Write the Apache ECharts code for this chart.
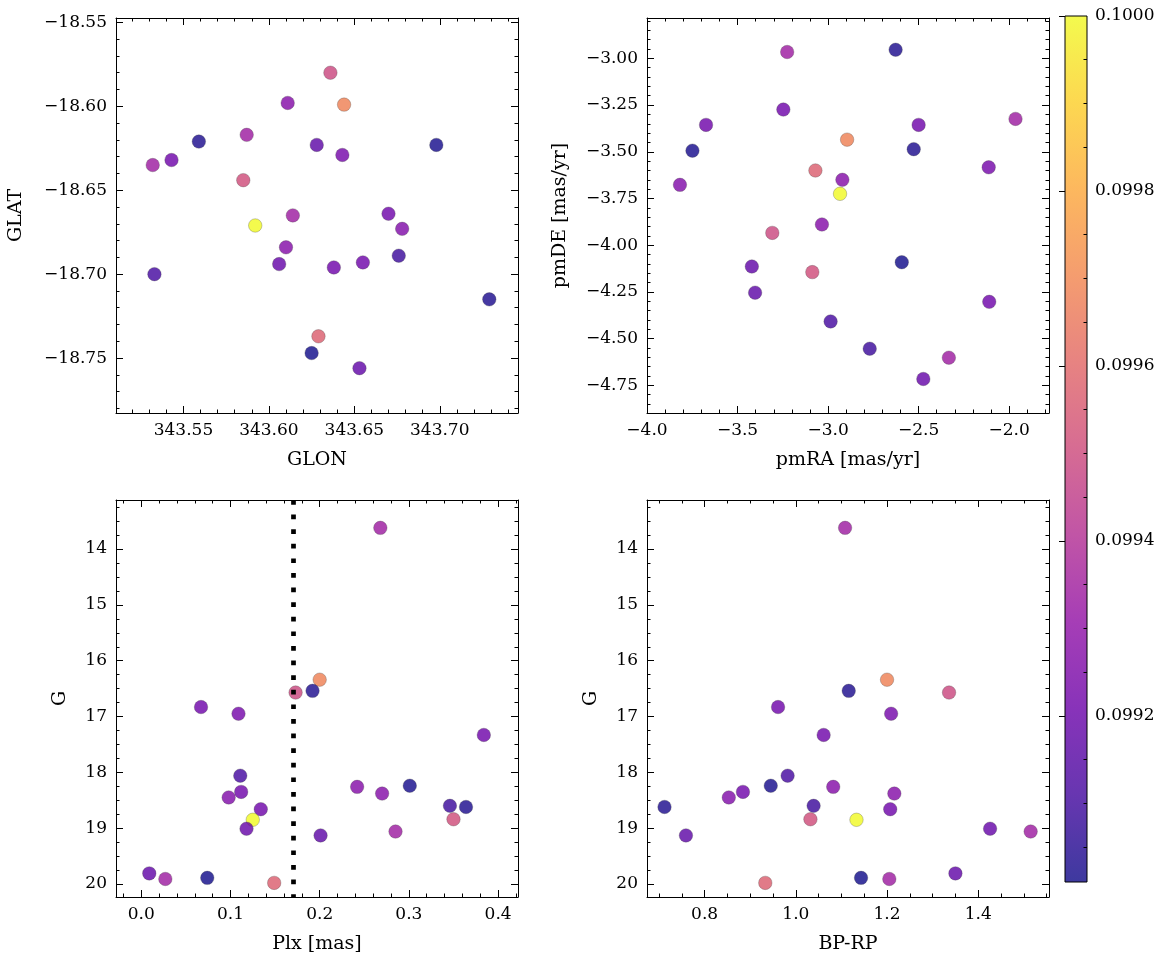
<!DOCTYPE html>
<html><head><meta charset="utf-8">
<script src="https://cdn.jsdelivr.net/npm/echarts@6/dist/echarts.min.js"></script>
<style>html,body{margin:0;padding:0;background:#fff}#c{width:1166px;height:965px}</style>
</head><body><div id="c"></div>
<script>
// ---- data (one entry per star) ----
const glon = [343.532, 343.644, 343.559, 343.636, 343.543, 343.643, 343.670, 343.533, 343.611, 343.698, 343.610, 343.678, 343.638, 343.655, 343.592, 343.606, 343.628, 343.587, 343.676, 343.729, 343.585, 343.653, 343.614, 343.625, 343.629];
const glat = [-18.635, -18.599, -18.621, -18.580, -18.632, -18.629, -18.664, -18.700, -18.598, -18.623, -18.684, -18.673, -18.696, -18.693, -18.671, -18.694, -18.623, -18.617, -18.689, -18.715, -18.644, -18.756, -18.665, -18.747, -18.737];
const pmra = [-3.226, -2.895, -2.627, -3.308, -3.247, -2.113, -2.110, -2.986, -2.921, -3.749, -3.034, -3.818, -3.674, -2.500, -2.934, -2.474, -3.403, -1.965, -2.770, -2.527, -3.087, -3.421, -2.333, -2.593, -3.070];
const pmde = [-2.966, -3.435, -2.954, -3.934, -3.274, -3.583, -4.303, -4.408, -3.650, -3.494, -3.889, -3.677, -3.356, -3.356, -3.725, -4.716, -4.254, -3.324, -4.554, -3.486, -4.144, -4.114, -4.602, -4.091, -3.600];
const plx  = [0.268, 0.200, 0.192, 0.173, 0.067, 0.109, 0.384, 0.111, 0.242, 0.301, 0.270, 0.098, 0.112, 0.134, 0.125, 0.118, 0.201, 0.285, 0.346, 0.364, 0.350, 0.009, 0.027, 0.074, 0.149];
const gmag = [13.62, 16.34, 16.54, 16.57, 16.83, 16.95, 17.33, 18.06, 18.26, 18.24, 18.38, 18.45, 18.35, 18.66, 18.85, 19.01, 19.13, 19.06, 18.60, 18.62, 18.84, 19.81, 19.91, 19.89, 19.98];
const bprp = [1.108, 1.200, 1.116, 1.336, 0.961, 1.209, 1.061, 0.982, 1.082, 0.945, 1.216, 0.853, 0.884, 1.207, 1.133, 1.426, 0.759, 1.515, 1.039, 0.712, 1.032, 1.350, 1.205, 1.143, 0.933];
const cval = [0.09934, 0.09968, 0.09903, 0.09949, 0.09921, 0.09923, 0.09921, 0.09911, 0.09927, 0.09902, 0.09927, 0.09926, 0.09921, 0.09921, 0.10000, 0.09919, 0.09917, 0.09934, 0.09909, 0.09903, 0.09951, 0.09918, 0.09934, 0.09901, 0.09957];
const PLX_CUT = 0.173;

// ---- tick labels ----
const glonTicks = [343.55, 343.60, 343.65, 343.70];
const glatTicks = [-18.55, -18.60, -18.65, -18.70, -18.75];
const pmraTicks = [-4.0, -3.5, -3.0, -2.5, -2.0];
const pmdeTicks = [-3.00, -3.25, -3.50, -3.75, -4.00, -4.25, -4.50, -4.75];
const plxTicks = [0.0, 0.1, 0.2, 0.3, 0.4];
const gTicks = [14, 15, 16, 17, 18, 19, 20];
const bprpTicks = [0.8, 1.0, 1.2, 1.4];
const cbarTicks = [0.0992, 0.0994, 0.0996, 0.0998, 0.1000];
const CB_MIN = 0.09901, CB_MAX = 0.1000;

const PLASMA = ['#0d0887','#41049d','#6a00a8','#8f0da4','#b12a90','#cc4778','#e16462','#f2844b','#fca636','#fcce25','#f0f921'];
const FONT = 'DejaVu Serif';
const TICK_FS = 17, NAME_FS = 19;

function fmt(d) { return v => (v < 0 ? '\u2212' : '') + Math.abs(v).toFixed(d); }
function minors(range, step, majors) {
  const out = [];
  const start = Math.ceil(range[0] / step - 1e-9);
  const end = Math.floor(range[1] / step + 1e-9);
  for (let k = start; k <= end; k++) {
    const v = +(k * step).toFixed(8);
    if (!majors.some(m => Math.abs(m - v) < step * 1e-3)) out.push(v);
  }
  return out;
}

const panels = [
  {x: glon, y: glat, xr: [343.5105, 343.7458], yr: [-18.7827, -18.5474], xt: glonTicks, yt: glatTicks, xm: 0.01, ym: 0.01, xd: 2, yd: 2,
   xname: 'GLON', yname: 'GLAT', grid: {left: 116, top: 18, width: 402, height: 395}, yGap: 90, inv: false},
  {x: pmra, y: pmde, xr: [-4.0, -1.78], yr: [-4.898, -2.784], xt: pmraTicks, yt: pmdeTicks, xm: 0.1, ym: 0.05, xd: 1, yd: 2,
   xname: 'pmRA [mas/yr]', yname: 'pmDE [mas/yr]', grid: {left: 647, top: 18, width: 402, height: 395}, yGap: 77, inv: false},
  {x: plx, y: gmag, xr: [-0.0283, 0.4223], yr: [13.121, 20.233], xt: plxTicks, yt: gTicks, xm: 0.02, ym: 0.25, xd: 1, yd: 0,
   xname: 'Plx [mas]', yname: 'G', grid: {left: 116, top: 500, width: 402, height: 397}, yGap: 46, inv: true, cut: true},
  {x: bprp, y: gmag, xr: [0.6736, 1.5552], yr: [13.121, 20.233], xt: bprpTicks, yt: gTicks, xm: 0.05, ym: 0.25, xd: 1, yd: 0,
   xname: 'BP-RP', yname: 'G', grid: {left: 647, top: 500, width: 402, height: 397}, yGap: 46, inv: true}
];

const grids = [], xAxes = [], yAxes = [], series = [];
const lineBlack = {color: '#000', width: 1};

function axisSet(list, gi, range, majors, minorVals, d, name, gap, inv, posMain, posOpp) {
  const common = {type: 'value', min: range[0], max: range[1], inverse: !!inv, splitLine: {show: false}, gridIndex: gi};
  const base = list.length;
  list.push(Object.assign({}, common, {
    position: posMain,
    axisLine: {show: true, onZero: false, lineStyle: lineBlack},
    axisTick: {show: true, inside: true, length: 7, customValues: majors, lineStyle: lineBlack},
    axisLabel: {show: true, customValues: majors, formatter: fmt(d), color: '#000', fontFamily: FONT, fontSize: TICK_FS, margin: 9},
    name: name, nameLocation: 'middle', nameGap: gap,
    nameTextStyle: {color: '#000', fontFamily: FONT, fontSize: NAME_FS}
  }));
  list.push(Object.assign({}, common, {
    position: posMain,
    axisLine: {show: false, onZero: false},
    axisTick: {show: true, inside: true, length: 3.5, customValues: minorVals, lineStyle: lineBlack},
    axisLabel: {show: false}
  }));
  list.push(Object.assign({}, common, {
    position: posOpp,
    axisLine: {show: true, onZero: false, lineStyle: lineBlack},
    axisTick: {show: true, inside: true, length: 7, customValues: majors, lineStyle: lineBlack},
    axisLabel: {show: false}
  }));
  list.push(Object.assign({}, common, {
    position: posOpp,
    axisLine: {show: false, onZero: false},
    axisTick: {show: true, inside: true, length: 3.5, customValues: minorVals, lineStyle: lineBlack},
    axisLabel: {show: false}
  }));
  return base;
}

panels.forEach((p, gi) => {
  grids.push(Object.assign({containLabel: false}, p.grid));
  const xi = axisSet(xAxes, gi, p.xr, p.xt, minors(p.xr, p.xm, p.xt), p.xd, p.xname, 38, false, 'bottom', 'top');
  const yi = axisSet(yAxes, gi, p.yr, p.yt, minors(p.yr, p.ym, p.yt), p.yd, p.yname, p.yGap, p.inv, 'left', 'right');
  const s = {
    type: 'scatter', xAxisIndex: xi, yAxisIndex: yi,
    data: p.x.map((v, i) => [v, p.y[i], cval[i]]),
    symbolSize: 13.5,
    itemStyle: {opacity: 0.8, borderColor: 'rgba(60,60,60,0.7)', borderWidth: 0.5},
    emphasis: {disabled: true}, silent: true, z: 3
  };
  if (p.cut) {
    s.markLine = {
      symbol: ['none', 'none'], silent: true, animation: false,
      label: {show: false},
      lineStyle: {color: '#000', width: 4.7, type: [4.7, 9.9], cap: 'butt', opacity: 1},
      data: [{xAxis: PLX_CUT}]
    };
  }
  series.push(s);
});

// ---- colorbar ----
const cbGrid = grids.length;
grids.push({left: 1065, top: 16, width: 22, height: 866, containLabel: false});
const cbX = xAxes.length;
xAxes.push({type: 'value', gridIndex: cbGrid, min: 0, max: 1, show: false});
const cbY = yAxes.length;
const cbMinor = minors([CB_MIN, CB_MAX], 0.00005, cbarTicks);
yAxes.push({type: 'value', gridIndex: cbGrid, min: CB_MIN, max: CB_MAX, position: 'right', splitLine: {show: false},
  axisLine: {show: false},
  axisTick: {show: true, inside: true, length: 6, customValues: cbarTicks, lineStyle: lineBlack},
  axisLabel: {show: true, customValues: cbarTicks, formatter: v => v.toFixed(4), color: '#000', fontFamily: FONT, fontSize: TICK_FS, margin: 8}});
yAxes.push({type: 'value', gridIndex: cbGrid, min: CB_MIN, max: CB_MAX, position: 'right', splitLine: {show: false},
  axisLine: {show: false},
  axisTick: {show: true, inside: true, length: 3.5, customValues: cbMinor, lineStyle: lineBlack},
  axisLabel: {show: false}});

function rgba(hex, a) {
  const n = parseInt(hex.slice(1), 16);
  return 'rgba(' + (n >> 16 & 255) + ',' + (n >> 8 & 255) + ',' + (n & 255) + ',' + a + ')';
}
const stops = PLASMA.map((c, i) => ({offset: i / (PLASMA.length - 1), color: rgba(c, 0.8)}));
series.push({
  type: 'custom', xAxisIndex: cbX, yAxisIndex: cbY, silent: true, z: -1,
  data: [[0, CB_MIN, 1, CB_MAX]],
  renderItem: function (params, api) {
    const p0 = api.coord([api.value(0), api.value(1)]);
    const p1 = api.coord([api.value(2), api.value(3)]);
    return {
      type: 'rect',
      shape: {x: p0[0], y: p1[1], width: p1[0] - p0[0], height: p0[1] - p1[1]},
      style: {fill: new echarts.graphic.LinearGradient(0, 1, 0, 0, stops), stroke: '#000', lineWidth: 1}
    };
  }
});

const chart = echarts.init(document.getElementById('c'), null, {renderer: 'canvas'});
chart.setOption({
  animation: false,
  backgroundColor: '#fff',
  grid: grids, xAxis: xAxes, yAxis: yAxes,
  visualMap: {type: 'continuous', show: false, min: CB_MIN, max: CB_MAX, dimension: 2, seriesIndex: [0, 1, 2, 3], inRange: {color: PLASMA}},
  series: series
});
</script>
</body></html>
